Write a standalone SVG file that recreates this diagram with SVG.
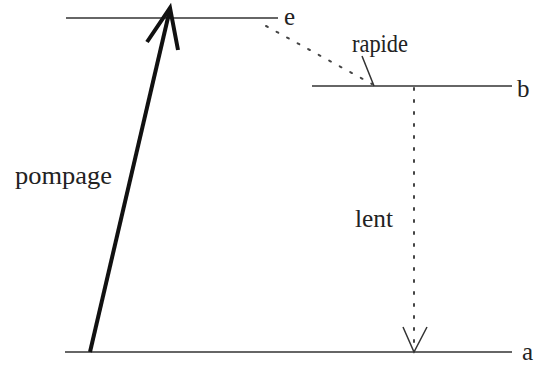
<svg xmlns="http://www.w3.org/2000/svg" width="535" height="367" viewBox="0 0 535 367">
<style>
.lvl{stroke:#333;stroke-width:1.3;fill:none}
.lbl{font-family:'Liberation Serif','DejaVu Serif','Times New Roman',serif;font-size:25px;fill:#222}
.dot{stroke:#444;stroke-width:2;stroke-dasharray:2 10;fill:none;stroke-linecap:round}
.head{stroke:#333;stroke-width:1.5;fill:none}
</style>
<rect width="535" height="367" fill="#fff"/>
<g id="level-e"><line class="lvl" x1="66" y1="18" x2="278" y2="18"/><text class="lbl" x="284" y="25">e</text></g>
<g id="level-b"><line class="lvl" x1="312" y1="86" x2="512" y2="86"/><text class="lbl" x="517" y="97">b</text></g>
<g id="level-a"><line class="lvl" x1="65" y1="352" x2="512" y2="352"/><text class="lbl" x="522" y="360">a</text></g>
<g id="connectors">
<g id="pompage">
<line x1="90" y1="352" x2="170" y2="9" stroke="#111" stroke-width="4"/>
<polyline points="147,42 170,8 178,50" stroke="#111" stroke-width="4" fill="none"/>
<text class="lbl" x="15" y="184" textLength="97" lengthAdjust="spacingAndGlyphs">pompage</text>
</g>
<g id="rapide">
<line class="dot" x1="266" y1="26" x2="372" y2="84"/>
<line class="head" x1="362" y1="56" x2="374" y2="86"/>
<text class="lbl" x="352" y="52" textLength="56" lengthAdjust="spacingAndGlyphs">rapide</text>
</g>
<g id="lent">
<line class="dot" x1="414" y1="88" x2="414" y2="350"/>
<polyline class="head" points="403,327 414,352 427,327"/>
<text class="lbl" x="355" y="227" textLength="38" lengthAdjust="spacingAndGlyphs">lent</text>
</g>
</g>
</svg>
